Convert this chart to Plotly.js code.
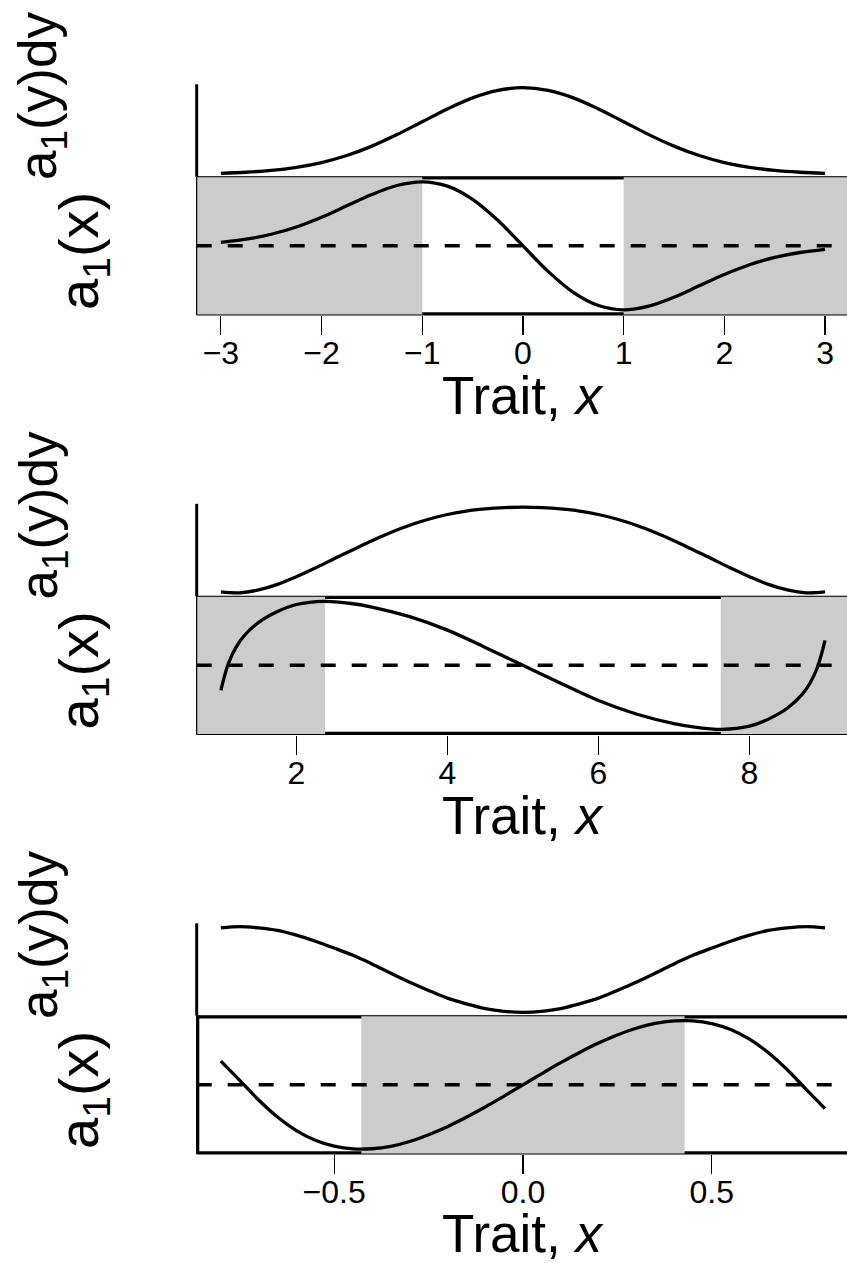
<!DOCTYPE html>
<html>
<head>
<meta charset="utf-8">
<script src="https://cdn.plot.ly/plotly-3.0.1.min.js"></script>
<style>html,body{margin:0;padding:0;background:#fff;}</style>
</head>
<body>
<div id="chart" style="width:847px;height:1263px;"></div>
<script>
// ---------------- data ----------------
// Panel 1 : trait range -3 .. 3
const panel1X = [-3,-2.75,-2.5,-2.25,-2,-1.75,-1.5,-1.25,-1,-0.75,-0.5,-0.25,0,0.25,0.5,0.75,1,1.25,1.5,1.75,2,2.25,2.5,2.75,3];
const panel1Density = [0.011,0.023,0.044,0.080,0.135,0.216,0.325,0.458,0.607,0.755,0.883,0.969,1,0.969,0.883,0.755,0.607,0.458,0.325,0.216,0.135,0.080,0.044,0.023,0.011];
const panel1A1 = [0.033,0.063,0.110,0.179,0.271,0.379,0.487,0.572,0.607,0.566,0.441,0.242,0,-0.242,-0.441,-0.566,-0.607,-0.572,-0.487,-0.379,-0.271,-0.179,-0.110,-0.063,-0.033];
const panel1Shade = [["min",-1],[1,"max"]];
const panel1TickVals = [-3,-2,-1,0,1,2,3];
const panel1TickText = ["\u22123","\u22122","\u22121","0","1","2","3"];

// Panel 2 : trait range 1 .. 9
const panel2DensityX = [1,1.25,1.5,1.75,2,2.25,2.5,2.75,3,3.25,3.5,3.75,4,4.25,4.5,4.75,5,5.25,5.5,5.75,6,6.25,6.5,6.75,7,7.25,7.5,7.75,8,8.25,8.5,8.75,9];
const panel2Density = [0.012,0.002,0.035,0.10,0.19,0.29,0.40,0.505,0.61,0.705,0.79,0.86,0.915,0.955,0.98,0.995,1,0.995,0.98,0.955,0.915,0.86,0.79,0.705,0.61,0.505,0.40,0.29,0.19,0.10,0.035,0.002,0.012];
const panel2X = [1.0,1.1,1.2,1.3,1.5,1.75,2.0,2.37,2.7,3.0,3.5,4.0,4.5,5.0,5.5,6.0,6.5,7.0,7.3,7.63,8.0,8.25,8.5,8.7,8.8,8.9,9.0];
const panel2A1 = [-0.39,0.03,0.28,0.45,0.67,0.84,0.95,1.0,0.97,0.91,0.76,0.55,0.28,0,-0.28,-0.55,-0.76,-0.91,-0.97,-1.0,-0.95,-0.84,-0.67,-0.45,-0.28,-0.03,0.39];
const panel2Shade = [["min",2.38],[7.62,"max"]];
const panel2TickVals = [2,4,6,8];
const panel2TickText = ["2","4","6","8"];

// Panel 3 : trait range -0.8 .. 0.8
const panel3X = [-0.8,-0.75,-0.7,-0.65,-0.6,-0.55,-0.5,-0.45,-0.4,-0.35,-0.3,-0.25,-0.2,-0.15,-0.1,-0.05,0,0.05,0.1,0.15,0.2,0.25,0.3,0.35,0.4,0.45,0.5,0.55,0.6,0.65,0.7,0.75,0.8];
const panel3Density = [0.985,0.999,0.985,0.955,0.90,0.83,0.75,0.665,0.565,0.455,0.35,0.255,0.165,0.098,0.043,0.011,0,0.011,0.043,0.098,0.165,0.255,0.35,0.455,0.565,0.665,0.75,0.83,0.90,0.955,0.985,0.999,0.985];
const panel3A1 = [0.37,0.07,-0.235,-0.50,-0.71,-0.86,-0.952,-0.995,-0.993,-0.955,-0.88,-0.775,-0.65,-0.504,-0.345,-0.174,0,0.174,0.345,0.504,0.65,0.775,0.88,0.955,0.993,0.995,0.952,0.86,0.71,0.50,0.235,-0.07,-0.37];
const panel3Shade = [[-0.428,0.428]];
const panel3TickVals = [-0.5,0,0.5];
const panel3TickText = ["\u22120.5","0.0","0.5"];

const xTitleText = "Trait, <i>x</i>";
const yLabelPart1 = "a<sub>1</sub>(x)";
const yLabelPart2 = "a<sub>1</sub>(y)dy";

// ---------------- layout geometry ----------------
const W = 847, H = 1263;
const plotLeftPx = 196.7;          // left edge of plot region
const plotWidthPx = 652.5;         // full plot region width (extends slightly past the page)
const visibleFrac = (W - plotLeftPx) / plotWidthPx;
const upperTopPx = 84.3, boxTopPx = 176.7, boxBotPx = 315.0;
const panelOffsets = [0, 419.5, 839];
const titleCenters = [396, 815.5, 1233];
const FONT = "Liberation Sans, Arial, Helvetica, sans-serif";

const panels = [
  {x: panel1X, upX: panel1X, up: panel1Density, low: panel1A1, shade: panel1Shade, tv: panel1TickVals, tt: panel1TickText},
  {x: panel2X, upX: panel2DensityX, up: panel2Density, low: panel2A1, shade: panel2Shade, tv: panel2TickVals, tt: panel2TickText},
  {x: panel3X, upX: panel3X, up: panel3Density, low: panel3A1, shade: panel3Shade, tv: panel3TickVals, tt: panel3TickText}
];

function ext(arr){ const mn=Math.min(...arr), mx=Math.max(...arr), r=mx-mn; return [mn-0.04*r, mx+0.04*r]; }
const pf = px => 1 - px / H;

const data = [];
const layout = {
  width: W, height: H, margin: {l:0, r:0, t:0, b:0},
  paper_bgcolor: "#fff", plot_bgcolor: "rgba(0,0,0,0)",
  showlegend: false, font: {family: FONT, color: "#000"},
  shapes: [], annotations: []
};

panels.forEach((p, i) => {
  const off = panelOffsets[i];
  const xn = i === 0 ? "x" : "x" + (i + 1);
  const lowIdx = 2 * i + 1, upIdx = 2 * i + 2;
  const yl = lowIdx === 1 ? "y" : "y" + lowIdx;
  const yu = "y" + upIdx;
  const xr = ext(p.x);
  const xRange = [xr[0], xr[0] + (xr[1] - xr[0]) * visibleFrac];

  layout[i === 0 ? "xaxis" : "xaxis" + (i + 1)] = {
    domain: [plotLeftPx / W, 1], range: xRange, anchor: yl,
    showgrid: false, zeroline: false, showline: false,
    ticks: "outside", ticklen: 19, tickwidth: 1.2, tickcolor: "#000",
    ticklabelstandoff: -9,
    tickmode: "array", tickvals: p.tv, ticktext: p.tt,
    tickfont: {family: FONT, size: 32, color: "#000"}
  };
  layout[lowIdx === 1 ? "yaxis" : "yaxis" + lowIdx] = {
    domain: [pf(boxBotPx + off), pf(boxTopPx + off)], range: ext(p.low), anchor: xn,
    visible: false, showgrid: false, zeroline: false
  };
  layout["yaxis" + upIdx] = {
    domain: [pf(boxTopPx + off), pf(upperTopPx + off)], range: ext(p.up), anchor: xn,
    visible: false, showgrid: false, zeroline: false
  };

  const xd = xn + " domain", yld = yl + " domain", yud = yu + " domain";
  const S = layout.shapes;
  // thick frame edges (visible only where not shaded)
  S.push({type:"rect", layer:"below", xref:xd, x0:0, x1:1, yref:yld, ysizemode:"pixel", yanchor:1, y0:-2.8, y1:0, fillcolor:"#000", line:{width:0}});
  S.push({type:"rect", layer:"below", xref:xd, x0:0, x1:1, yref:yld, ysizemode:"pixel", yanchor:0, y0:0, y1:2.8, fillcolor:"#000", line:{width:0}});
  S.push({type:"rect", layer:"below", xref:xd, xsizemode:"pixel", xanchor:0, x0:-0.5, x1:2.6, yref:yld, y0:0, y1:1, fillcolor:"#000", line:{width:0}});
  // grey shaded regions
  p.shade.forEach(s => {
    const a = s[0] === "min" ? xRange[0] - 1 : s[0];
    const b = s[1] === "max" ? xRange[1] + 1 : s[1];
    S.push({type:"rect", layer:"below", xref:xn, x0:a, x1:b, yref:yld, y0:0, y1:1, fillcolor:"#cccccc", line:{width:0}});
  });
  // thin box
  S.push({type:"line", layer:"below", xref:xd, x0:0, x1:1, yref:yld, y0:1, y1:1, line:{color:"#000", width:1.1}});
  S.push({type:"line", layer:"below", xref:xd, x0:0, x1:1, yref:yld, y0:0, y1:0, line:{color:"#000", width:1.1}});
  S.push({type:"line", layer:"below", xref:xd, x0:0, x1:0, yref:yld, y0:0, y1:1, line:{color:"#000", width:1.1}});
  // axis line of the upper part
  S.push({type:"line", layer:"below", xref:xd, x0:0, x1:0, yref:yud, y0:0, y1:1, line:{color:"#000", width:3}});
  // dashed zero line
  S.push({type:"line", layer:"below", xref:xd, x0:0, x1:1, yref:yl, y0:0, y1:0, line:{color:"#000", width:3.5, dash:"15px,16px"}});

  data.push({type:"scatter", mode:"lines", x:p.upX, y:p.up, xaxis:xn, yaxis:yu,
             line:{color:"#000", width:3.3, shape:"spline", smoothing:1}, hoverinfo:"skip"});
  data.push({type:"scatter", mode:"lines", x:p.x, y:p.low, xaxis:xn, yaxis:yl,
             line:{color:"#000", width:3.3, shape:"spline", smoothing:1}, hoverinfo:"skip"});

  const A = layout.annotations;
  A.push({xref:"paper", yref:"paper", x:(plotLeftPx + plotWidthPx/2)/W, y:pf(titleCenters[i]), xanchor:"center", yanchor:"middle",
          borderpad:0, text:xTitleText, showarrow:false, font:{family:FONT, size:53, color:"#000"}});
  A.push({xref:"paper", yref:"paper", x:82/W, y:pf(311 + off), xanchor:"center", yanchor:"bottom", textangle:-90,
          borderpad:0, text:yLabelPart1, showarrow:false, font:{family:FONT, size:56, color:"#000"}});
  A.push({xref:"paper", yref:"paper", x:42/W, y:pf(181 + off), xanchor:"center", yanchor:"bottom", textangle:-90,
          borderpad:0, text:yLabelPart2, showarrow:false, font:{family:FONT, size:53, color:"#000"}});
});

Plotly.newPlot("chart", data, layout, {staticPlot:true, displayModeBar:false});
</script>
</body>
</html>
